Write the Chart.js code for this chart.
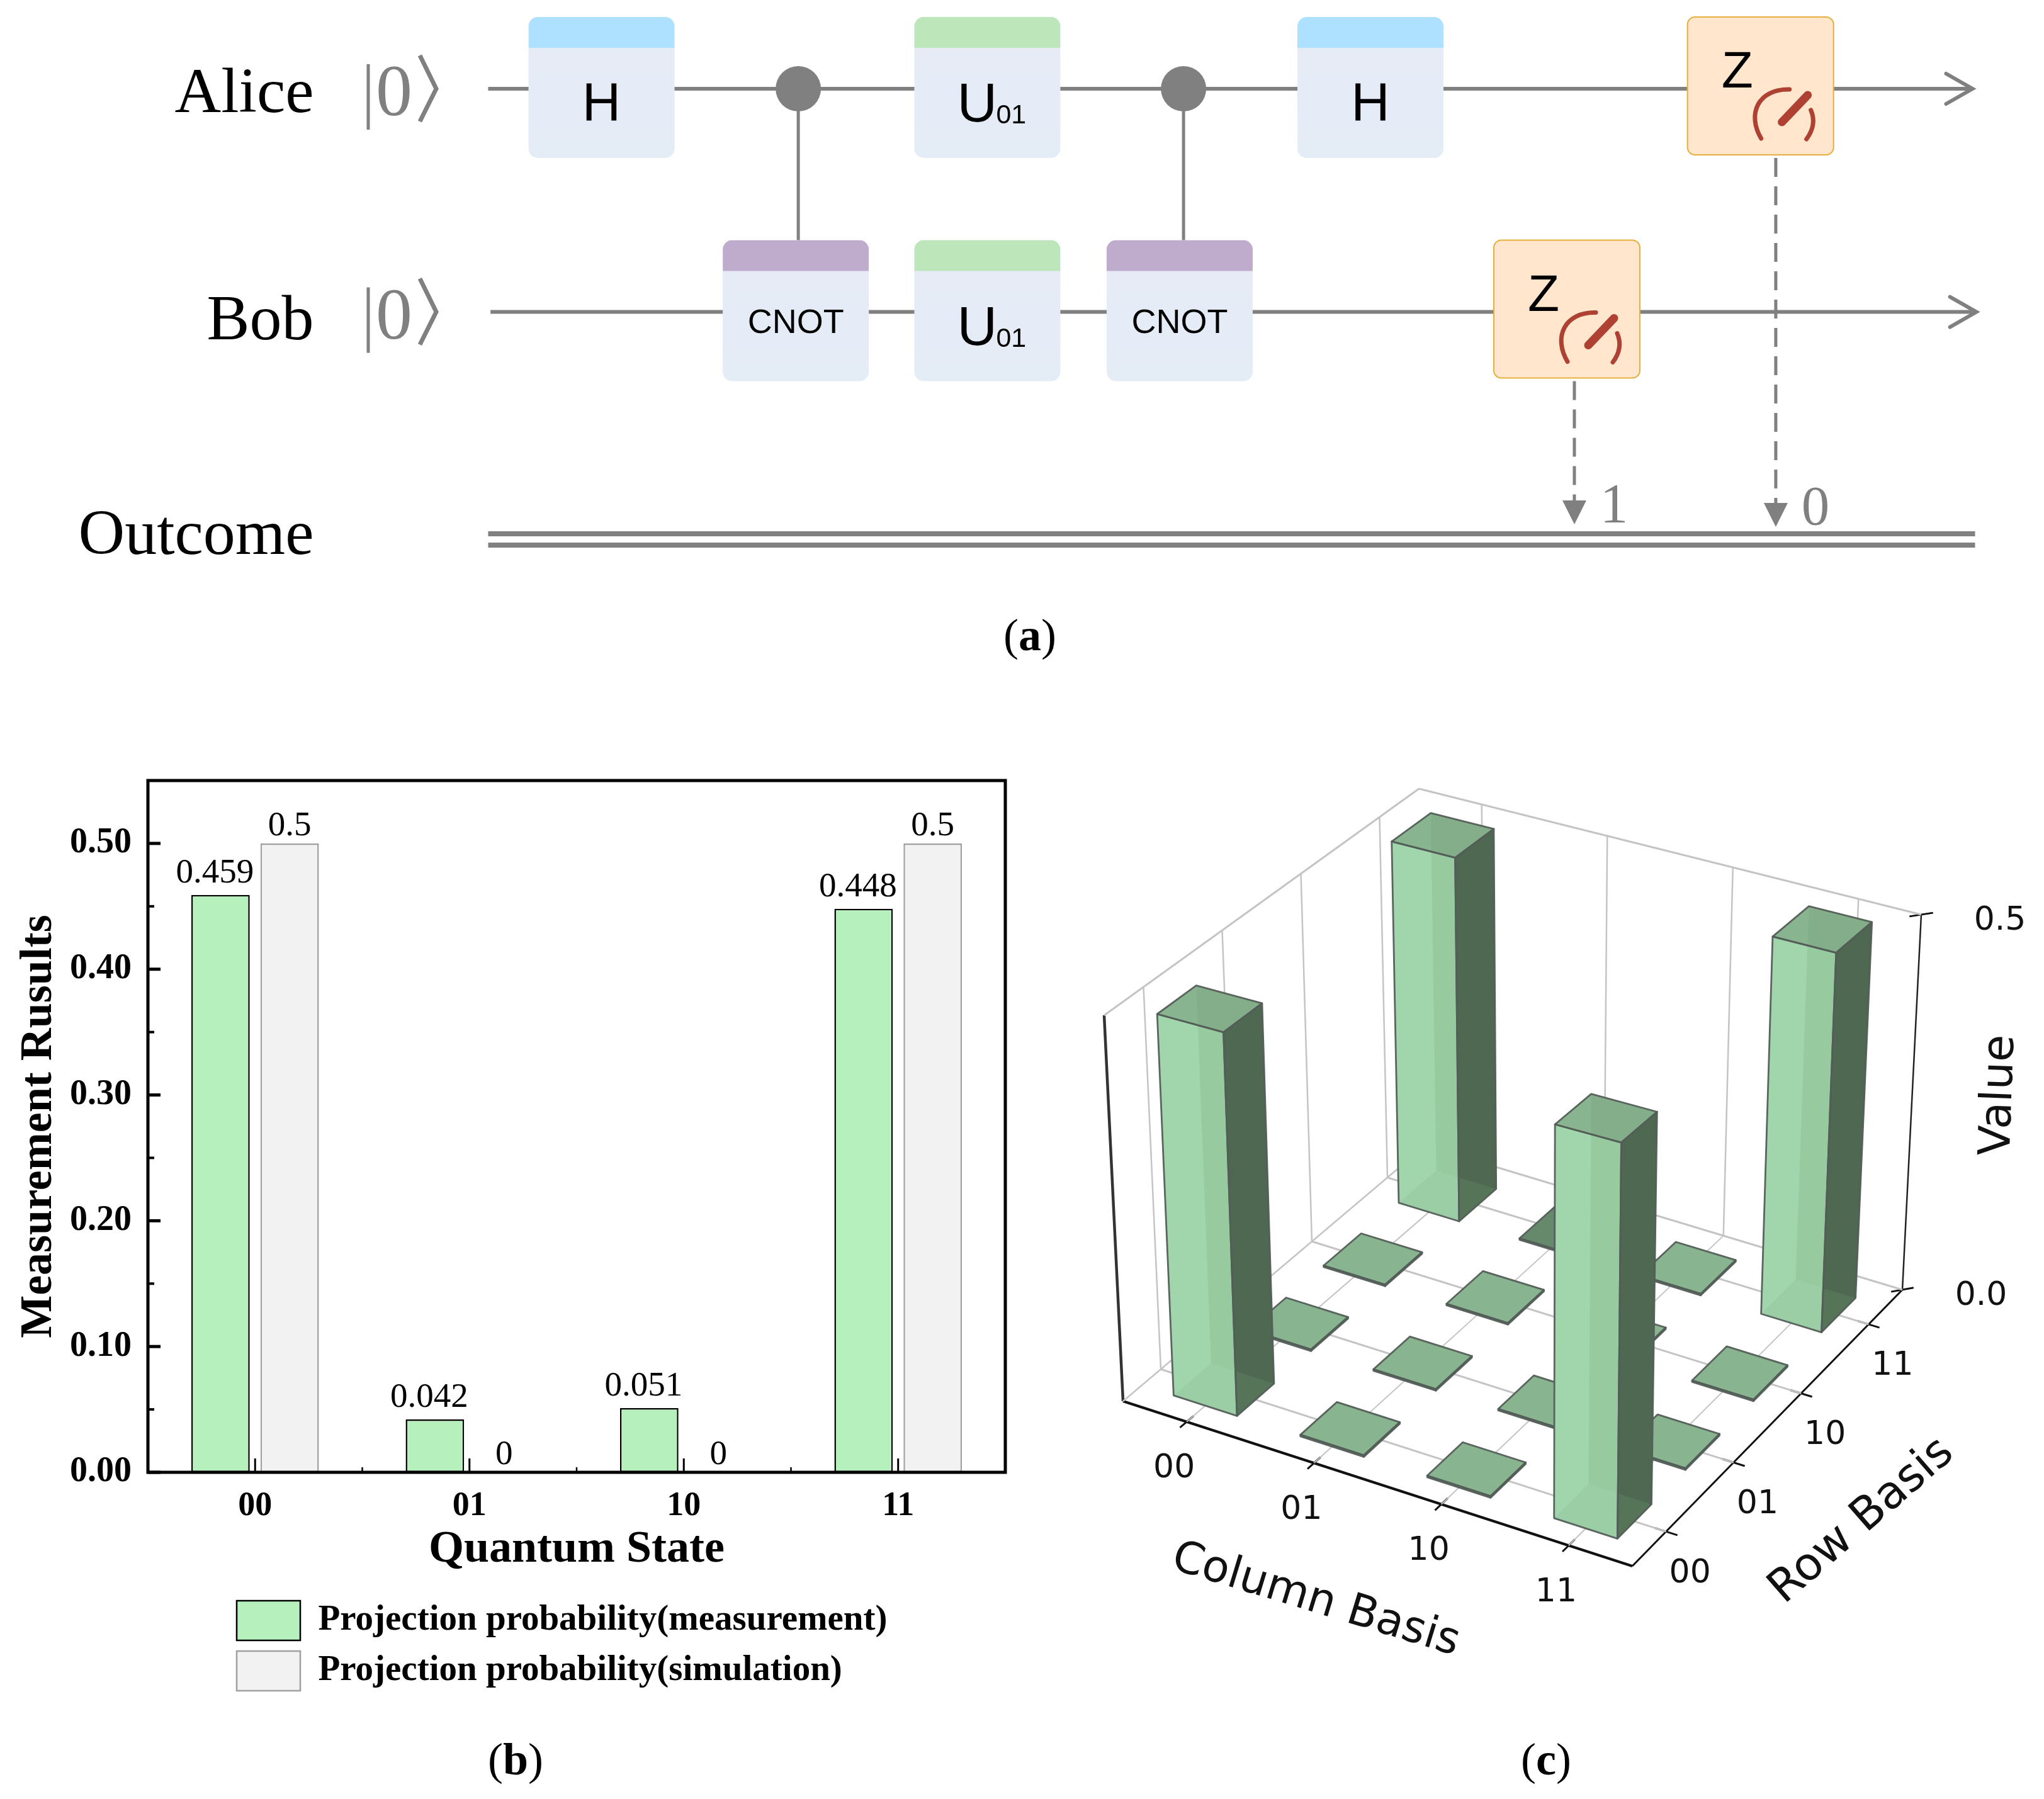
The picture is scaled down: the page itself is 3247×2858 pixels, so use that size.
<!DOCTYPE html>
<html>
<head>
<meta charset="utf-8">
<title>Quantum circuit, projection probabilities and density matrix</title>
<script src="https://cdn.jsdelivr.net/npm/chart.js@4"></script>
<style>
  html, body { margin: 0; padding: 0; background: #fff; }
  body { position: relative; width: 3247px; height: 2858px; overflow: hidden; }
  canvas { position: absolute; }
</style>
</head>
<body>
<canvas id="circuit" width="3247" height="1100" style="left:0;top:0"></canvas>
<canvas id="bars" width="1650" height="1658" style="left:0;top:1200px"></canvas>
<canvas id="matrix" width="1567" height="1658" style="left:1680px;top:1200px"></canvas>
<script>
// ---- panel (a) circuit, in columns and rails
var railNames = ['Alice', 'Bob', 'Outcome'];
var gateNames = ['H', 'CNOT', 'U01', 'U01', 'CNOT', 'H', 'Z', 'Z'];
var gateKinds = ['h', 'cnot', 'u', 'u', 'cnot', 'h', 'z', 'z'];
var gateCols = [0, 1.006, 1.998, 1.998, 2.994, 3.982, 4.999, 6.002];
var gateRails = [0, 1, 0, 1, 1, 0, 1, 0];
var controlCols = [1.019, 3.014];
var measureCols = [5.038, 6.081];
var measureRails = [1, 0];
var measureTips = [1.952, 1.963];
var measureOutcomes = ['1', '0'];
var wireStart = [-0.587, -0.575];
var wireEnd = [7.1, 7.12];
var outcomeRails = [1.994, 2.045];

// ---- panel (b) bars
var stateLabels = ['00', '01', '10', '11'];
var measuredValues = [0.459, 0.042, 0.051, 0.448];
var simulatedValues = [0.5, 0, 0, 0.5];
var minorYTicks = [0.05, 0.15, 0.25, 0.35, 0.45];

// ---- panel (c) 3d bars, one inner list per column basis
var basisLabels = ['00', '01', '10', '11'];
var col00Values = [0.495, 0.002, 0.002, 0.497];
var col01Values = [0.002, 0.002, 0.002, -0.002];
var col10Values = [0.002, 0.002, 0.002, 0.002];
var col11Values = [0.493, 0.002, 0.002, 0.5];
var cellValues = [col00Values, col01Values, col10Values, col11Values];
var zTicks = [0, 0.5];
var basisTicks = [0.5, 1.5, 2.5, 3.5];

var SERIF = '"Liberation Serif", "Times New Roman", serif';
var SANS = '"Liberation Sans", Arial, sans-serif';
var DEJAVU = '"DejaVu Sans", sans-serif';
var GREY = '#808080';

function panelLabel(ctx, letter, cx, baseline) {
  var reg = '72px ' + SERIF, bold = 'bold 72px ' + SERIF;
  ctx.textAlign = 'left';
  ctx.textBaseline = 'alphabetic';
  ctx.fillStyle = '#000';
  ctx.font = reg;
  var w1 = ctx.measureText('(').width, w3 = ctx.measureText(')').width;
  ctx.font = bold;
  var w2 = ctx.measureText(letter).width;
  var x = cx - (w1 + w2 + w3) / 2;
  ctx.font = reg;
  ctx.fillText('(', x, baseline);
  ctx.font = bold;
  ctx.fillText(letter, x + w1, baseline);
  ctx.font = reg;
  ctx.fillText(')', x + w1 + w2, baseline);
}

// ---------------- panel (a)
function seg(x1, y1, x2, y2, color, width, dash) {
  return {
    type: 'scatter', showLine: true, pointRadius: 0, borderColor: color, borderWidth: width,
    borderDash: dash || [], data: [{x: x1, y: y1}, {x: x2, y: y2}], fill: false, borderCapStyle: 'butt'
  };
}

var circuitSets = [];
wireStart.forEach(function (s, i) {
  circuitSets.push(seg(s, i, wireEnd[i], i, GREY, 6));
});
outcomeRails.forEach(function (r) {
  circuitSets.push(seg(wireStart[0], r, 7.113, r, GREY, 8));
});
controlCols.forEach(function (c) {
  circuitSets.push(seg(c, 0, c, 1, GREY, 5));
});
measureCols.forEach(function (c, i) {
  circuitSets.push(seg(c, measureRails[i] + 0.31, c, measureTips[i] - 0.1, GREY, 5, [30, 15]));
});
circuitSets.push({
  type: 'scatter', pointRadius: 36, pointBackgroundColor: GREY, pointBorderWidth: 0,
  data: controlCols.map(function (c) { return {x: c, y: 0}; })
});

var headerColors = {h: '#AEE0FF', cnot: '#BFABCB', u: '#BDE6BB'};

function drawGate(ctx, cx, ry, name, kind) {
  var w = 232, left = cx - w / 2;
  if (kind == 'z') {
    ctx.beginPath();
    ctx.roundRect(left, ry - 114, w, 219, 12);
    ctx.fillStyle = '#FFE6CC';
    ctx.fill();
    ctx.strokeStyle = '#E6AF3C';
    ctx.lineWidth = 2;
    ctx.stroke();
    ctx.fillStyle = '#000';
    ctx.font = '82px ' + SANS;
    ctx.textAlign = 'center';
    ctx.textBaseline = 'alphabetic';
    ctx.fillText(name, cx - 37, ry - 2);
    ctx.strokeStyle = '#AE4132';
    ctx.lineCap = 'round';
    ctx.lineWidth = 7;
    ctx.beginPath();
    ctx.moveTo(cx + 1, ry + 79);
    ctx.bezierCurveTo(cx - 22, ry + 40, cx - 4, ry, cx + 46, ry + 1);
    ctx.stroke();
    ctx.beginPath();
    ctx.moveTo(cx + 80, ry + 34);
    ctx.quadraticCurveTo(cx + 90, ry + 57, cx + 73, ry + 80);
    ctx.stroke();
    ctx.lineWidth = 13;
    ctx.beginPath();
    ctx.moveTo(cx + 34, ry + 53);
    ctx.lineTo(cx + 75, ry + 10);
    ctx.stroke();
    ctx.lineCap = 'butt';
    return;
  }
  ctx.beginPath();
  ctx.roundRect(left, ry - 114, w, 224, 15);
  var g = ctx.createLinearGradient(0, ry - 114, 0, ry + 110);
  g.addColorStop(0, '#E7EBF6');
  g.addColorStop(1, '#E4ECF6');
  ctx.fillStyle = g;
  ctx.fill();
  ctx.save();
  ctx.beginPath();
  ctx.rect(left, ry - 114, w, 49);
  ctx.clip();
  ctx.beginPath();
  ctx.roundRect(left, ry - 114, w, 224, 15);
  ctx.fillStyle = headerColors[kind];
  ctx.fill();
  ctx.restore();

  ctx.fillStyle = '#000';
  ctx.textBaseline = 'alphabetic';
  ctx.textAlign = 'center';
  if (kind == 'h') {
    ctx.font = '85px ' + SANS;
    ctx.fillText(name, cx, ry + 50);
  } else if (kind == 'cnot') {
    ctx.font = '54px ' + SANS;
    ctx.fillText(name, cx, ry + 33);
  } else {
    ctx.textAlign = 'left';
    ctx.font = '88px ' + SANS;
    ctx.fillText(name.charAt(0), cx - 48, ry + 52);
    ctx.font = '43px ' + SANS;
    ctx.fillText(name.slice(1), cx + 14, ry + 55);
  }
}

var circuitPlugin = {
  id: 'circuitParts',
  afterDatasetsDraw: function (chart) {
    var ctx = chart.ctx, sx = chart.scales.x, sy = chart.scales.y;
    ctx.save();
    // wire arrows
    ctx.strokeStyle = GREY;
    ctx.lineWidth = 6;
    ctx.lineCap = 'round';
    wireEnd.forEach(function (e, i) {
      var tip = sx.getPixelForValue(e), y = sy.getPixelForValue(i);
      ctx.beginPath();
      ctx.moveTo(tip - 42, y - 24);
      ctx.lineTo(tip, y);
      ctx.lineTo(tip - 42, y + 24);
      ctx.stroke();
    });
    ctx.lineCap = 'butt';
    // gates
    gateNames.forEach(function (name, i) {
      drawGate(ctx, sx.getPixelForValue(gateCols[i]), sy.getPixelForValue(gateRails[i]), name, gateKinds[i]);
    });
    // measurement arrows and results
    measureCols.forEach(function (c, i) {
      var x = sx.getPixelForValue(c), tip = sy.getPixelForValue(measureTips[i]);
      ctx.fillStyle = GREY;
      ctx.beginPath();
      ctx.moveTo(x, tip);
      ctx.lineTo(x - 19, tip - 38);
      ctx.lineTo(x + 19, tip - 38);
      ctx.closePath();
      ctx.fill();
      ctx.font = '89px ' + SERIF;
      ctx.textAlign = 'center';
      ctx.textBaseline = 'alphabetic';
      ctx.fillText(measureOutcomes[i], x + 63, tip - 4);
    });
    // rail names and kets
    var nameDrop = [37, 43, 30];
    railNames.forEach(function (name, i) {
      var y = sy.getPixelForValue(i);
      ctx.fillStyle = '#000';
      ctx.font = '102px ' + SERIF;
      ctx.textAlign = 'right';
      ctx.textBaseline = 'alphabetic';
      ctx.fillText(name, sx.getPixelForValue(-1.49), y + nameDrop[i]);
      if (i == 2) return;
      var kx = sx.getPixelForValue(-1.208);
      ctx.strokeStyle = GREY;
      ctx.lineWidth = 5;
      ctx.beginPath();
      ctx.moveTo(kx, y - 39);
      ctx.lineTo(kx, y + 65);
      ctx.stroke();
      ctx.lineWidth = 7;
      ctx.beginPath();
      ctx.moveTo(kx + 82, y - 53);
      ctx.lineTo(kx + 108, y);
      ctx.lineTo(kx + 82, y + 52);
      ctx.stroke();
      ctx.fillStyle = GREY;
      ctx.font = '116px ' + SERIF;
      ctx.textAlign = 'center';
      ctx.fillText('0', kx + 41, y + 42);
    });
    panelLabel(ctx, 'a', 1636, 1033);
    ctx.restore();
  }
};

new Chart(document.getElementById('circuit'), {
  type: 'scatter',
  data: {datasets: circuitSets},
  plugins: [circuitPlugin],
  options: {
    responsive: false, animation: false, devicePixelRatio: 1,
    layout: {padding: 0, autoPadding: false},
    plugins: {legend: {display: false}, tooltip: {enabled: false}},
    scales: {
      x: {type: 'linear', display: false, min: -3.115, max: 7.47},
      y: {type: 'linear', display: false, reverse: true, min: -0.3977, max: 2.705}
    }
  }
});

// ---------------- panel (b)
var barPlugin = {
  id: 'barExtras',
  afterLayout: function (chart) {
    var l = chart.legend;
    l.left = 359; l.right = 1500;
    l.top = 1326; l.bottom = 1540;
  },
  afterDraw: function (chart) {
    var ctx = chart.ctx, a = chart.chartArea, sx = chart.scales.x, sy = chart.scales.y;
    ctx.save();
    ctx.strokeStyle = '#000';
    sy.ticks.forEach(function (t) {
      var y = sy.getPixelForValue(t.value);
      ctx.lineWidth = 5;
      ctx.beginPath(); ctx.moveTo(a.left, y); ctx.lineTo(a.left + 20, y); ctx.stroke();
    });
    minorYTicks.forEach(function (v) {
      var y = sy.getPixelForValue(v);
      ctx.lineWidth = 4;
      ctx.beginPath(); ctx.moveTo(a.left, y); ctx.lineTo(a.left + 10, y); ctx.stroke();
    });
    stateLabels.forEach(function (s, i) {
      var x = sx.getPixelForValue(i);
      ctx.lineWidth = 3;
      ctx.beginPath(); ctx.moveTo(x, a.bottom); ctx.lineTo(x, a.bottom - 22); ctx.stroke();
      if (i < stateLabels.length - 1) {
        var m = sx.getPixelForValue(i + 0.5);
        ctx.lineWidth = 2.5;
        ctx.beginPath(); ctx.moveTo(m, a.bottom); ctx.lineTo(m, a.bottom - 8); ctx.stroke();
      }
    });
    ctx.lineWidth = 5;
    ctx.strokeRect(a.left, a.top, a.right - a.left, a.bottom - a.top);

    // value labels above the bars
    ctx.fillStyle = '#000';
    ctx.font = '55px ' + SERIF;
    ctx.textAlign = 'center';
    ctx.textBaseline = 'alphabetic';
    chart.data.datasets.forEach(function (ds, d) {
      chart.getDatasetMeta(d).data.forEach(function (bar, i) {
        var dx = d == 0 ? -9 : 0, gap = d == 0 ? 20 : 13;
        ctx.fillText(String(ds.data[i]), bar.x + dx, bar.y - gap);
      });
    });
    panelLabel(ctx, 'b', 819, 1619);
    ctx.restore();
  }
};

new Chart(document.getElementById('bars'), {
  type: 'bar',
  data: {
    labels: stateLabels,
    datasets: [
      {label: 'Projection probability(measurement)', data: measuredValues, backgroundColor: '#B5F0BD',
        borderColor: '#000', borderWidth: 2.5, borderSkipped: false, categoryPercentage: 0.645, barPercentage: 0.845},
      {label: 'Projection probability(simulation)', data: simulatedValues, backgroundColor: '#F2F2F2',
        borderColor: '#A0A0A0', borderWidth: 2.5, borderSkipped: false, categoryPercentage: 0.645, barPercentage: 0.845}
    ]
  },
  plugins: [barPlugin],
  options: {
    responsive: false, animation: false, devicePixelRatio: 1,
    layout: {padding: {top: 40, left: 0, right: 53, bottom: 360}, autoPadding: false},
    plugins: {
      tooltip: {enabled: false},
      legend: {
        position: 'chartArea', align: 'start',
        labels: {boxWidth: 101, boxHeight: 63, padding: 17, color: '#000',
          font: {family: SERIF, size: 57, weight: 'bold'}}
      }
    },
    scales: {
      x: {
        grid: {display: false}, border: {display: false},
        ticks: {color: '#000', padding: 14, maxRotation: 0, font: {family: SERIF, size: 54, weight: 'bold'}},
        title: {display: true, text: 'Quantum State', color: '#000', padding: 0,
          font: {family: SERIF, size: 72, weight: 'bold', lineHeight: 1}},
        afterFit: function (s) { s.height = 159; }
      },
      y: {
        min: 0, max: 0.55,
        grid: {display: false}, border: {display: false},
        ticks: {stepSize: 0.1, includeBounds: false, color: '#000', padding: 18,
          font: {family: SERIF, size: 56, weight: 'bold', lineHeight: 0.7},
          callback: function (v) { return v.toFixed(2); }},
        title: {display: true, text: 'Measurement Rusults', color: '#000', padding: {top: 26, bottom: 0},
          font: {family: SERIF, size: 72, weight: 'bold', lineHeight: 1}},
        afterFit: function (s) { s.width = 235; }
      }
    }
  }
});

// ---------------- panel (c)
// corners of the plot box in view units: [col end, row end]
var boxFloor = [[1784, 2226], [2264, 1820], [2593, 2488], [3022, 2049]];
var boxTop = [[1754, 1613], [2254, 1253], [2600, 1845], [3052, 1453]];

function project(u, v, z) {
  var a = u / 4, b = v / 4, c = z / 0.5, out = [0, 0];
  for (var k = 0; k < 2; k++) {
    var f = (1 - a) * ((1 - b) * boxFloor[0][k] + b * boxFloor[1][k]) + a * ((1 - b) * boxFloor[2][k] + b * boxFloor[3][k]);
    var t = (1 - a) * ((1 - b) * boxTop[0][k] + b * boxTop[1][k]) + a * ((1 - b) * boxTop[2][k] + b * boxTop[3][k]);
    out[k] = f + (t - f) * c;
  }
  return out;
}

function line3d(p, q, color, width) {
  var A = project(p[0], p[1], p[2]), B = project(q[0], q[1], q[2]);
  return seg(A[0], A[1], B[0], B[1], color, width);
}

var GRID = '#C4C4C4';
var matrixSets = [];
basisTicks.forEach(function (t) {
  matrixSets.push(line3d([t, 0, 0], [t, 4, 0], GRID, 2));
  matrixSets.push(line3d([0, t, 0], [4, t, 0], GRID, 3));
  matrixSets.push(line3d([0, t, 0], [0, t, 0.5], GRID, 2.5));
  matrixSets.push(line3d([t, 4, 0], [t, 4, 0.5], GRID, 2.5));
});
matrixSets.push(line3d([0, 0, 0.5], [0, 4, 0.5], GRID, 3));
matrixSets.push(line3d([0, 4, 0.5], [4, 4, 0.5], GRID, 3));
matrixSets.push(line3d([0, 0, 0], [0, 4, 0], GRID, 2.5));
matrixSets.push(line3d([0, 4, 0], [4, 4, 0], GRID, 3));
matrixSets.push(line3d([0, 0, 0], [0, 0, 0.5], '#333', 4.5));
matrixSets.push(line3d([4, 4, 0], [4, 4, 0.5], '#222', 2.5));
matrixSets.push(line3d([0, 0, 0], [4, 0, 0], '#111', 4));
matrixSets.push(line3d([4, 0, 0], [4, 4, 0], '#111', 3));
basisTicks.forEach(function (t) {
  matrixSets.push(line3d([t, -0.09, 0], [t, 0.09, 0], '#111', 3));
  matrixSets.push(line3d([3.91, t, 0], [4.09, t, 0], '#111', 3));
});
zTicks.forEach(function (z) {
  matrixSets.push(line3d([3.94, 3.94, z], [4.06, 4.06, z], '#111', 3));
});

var matrixPlugin = {
  id: 'matrixBars',
  afterDatasetsDraw: function (chart) {
    var ctx = chart.ctx, sx = chart.scales.x, sy = chart.scales.y;
    function pt(u, v, z) {
      var p = project(u, v, z);
      return [sx.getPixelForValue(p[0]), sy.getPixelForValue(p[1])];
    }
    function path(pts) {
      ctx.beginPath();
      pts.forEach(function (p, i) { if (i == 0) ctx.moveTo(p[0], p[1]); else ctx.lineTo(p[0], p[1]); });
      ctx.closePath();
    }
    function shaded(face, base, overlays) {
      path(face);
      ctx.fillStyle = base;
      ctx.fill();
      ctx.save();
      path(face);
      ctx.clip();
      overlays.forEach(function (o) {
        path(o[0]);
        ctx.fillStyle = o[1];
        ctx.fill();
      });
      ctx.restore();
    }

    // back to front: the corner at col 4, row 0 is nearest
    var cells = [];
    cellValues.forEach(function (list, c) {
      list.forEach(function (val, r) { cells.push({c: c, r: r, val: val}); });
    });
    cells.sort(function (a, b) { return (a.c - a.r) - (b.c - b.r); });

    ctx.save();
    ctx.lineJoin = 'round';
    cells.forEach(function (cell) {
      var u0 = cell.c + 0.25, u1 = cell.c + 0.75, v0 = cell.r + 0.25, v1 = cell.r + 0.75;
      var z = Math.abs(cell.val);
      var front = [pt(u0, v0, 0), pt(u1, v0, 0), pt(u1, v0, z), pt(u0, v0, z)];
      var side = [pt(u1, v0, 0), pt(u1, v1, 0), pt(u1, v1, z), pt(u1, v0, z)];
      var top = [pt(u0, v0, z), pt(u1, v0, z), pt(u1, v1, z), pt(u0, v1, z)];
      var back = [pt(u0, v1, 0), pt(u1, v1, 0), pt(u1, v1, z), pt(u0, v1, z)];
      var bottom = [pt(u0, v0, 0), pt(u1, v0, 0), pt(u1, v1, 0), pt(u0, v1, 0)];
      shaded(front, '#A1D5AB', [[back, '#98CAA0'], [bottom, '#9BCEA4']]);
      shaded(side, '#4E6851', [[bottom, '#557458']]);
      if (cell.val < 0) shaded(top, '#65896A', []);
      else shaded(top, '#88B48F', [[back, '#84AE8A']]);
      ctx.strokeStyle = 'rgba(84,94,88,0.95)';
      ctx.lineWidth = 2.8;
      path(front); ctx.stroke();
      path(side); ctx.stroke();
      path(top); ctx.stroke();
    });

    // tick labels sit at a fixed distance from their tick
    ctx.fillStyle = '#111';
    ctx.font = '52px ' + DEJAVU;
    ctx.textAlign = 'center';
    ctx.textBaseline = 'middle';
    basisTicks.forEach(function (t, i) {
      var p = pt(t, 0, 0);
      ctx.fillText(basisLabels[i], p[0] - 20, p[1] + 75);
      p = pt(4, t, 0);
      ctx.fillText(basisLabels[i], p[0] + 38, p[1] + 67);
    });
    zTicks.forEach(function (z) {
      var p = pt(4, 4, z);
      ctx.fillText(z.toFixed(1), p[0] + 125, p[1] + 10);
    });

    function turned(text, x, y, deg, size) {
      ctx.save();
      ctx.translate(sx.getPixelForValue(x), sy.getPixelForValue(y));
      ctx.rotate(deg * Math.PI / 180);
      ctx.font = size + 'px ' + DEJAVU;
      ctx.fillText(text, 0, 0);
      ctx.restore();
    }
    turned('Column Basis', 2090, 2543, 17, 70);
    turned('Row Basis', 2958, 2417, -41, 72);
    turned('Value', 3177, 1740, -88, 70);

    ctx.translate(-1680, -1200);
    panelLabel(ctx, 'c', 2456, 2819);
    ctx.restore();
  }
};

new Chart(document.getElementById('matrix'), {
  type: 'scatter',
  data: {datasets: matrixSets},
  plugins: [matrixPlugin],
  options: {
    responsive: false, animation: false, devicePixelRatio: 1,
    layout: {padding: 0, autoPadding: false},
    plugins: {legend: {display: false}, tooltip: {enabled: false}},
    scales: {
      x: {type: 'linear', display: false, min: 1680, max: 3247},
      y: {type: 'linear', display: false, reverse: true, min: 1200, max: 2858}
    }
  }
});
</script>
</body>
</html>
